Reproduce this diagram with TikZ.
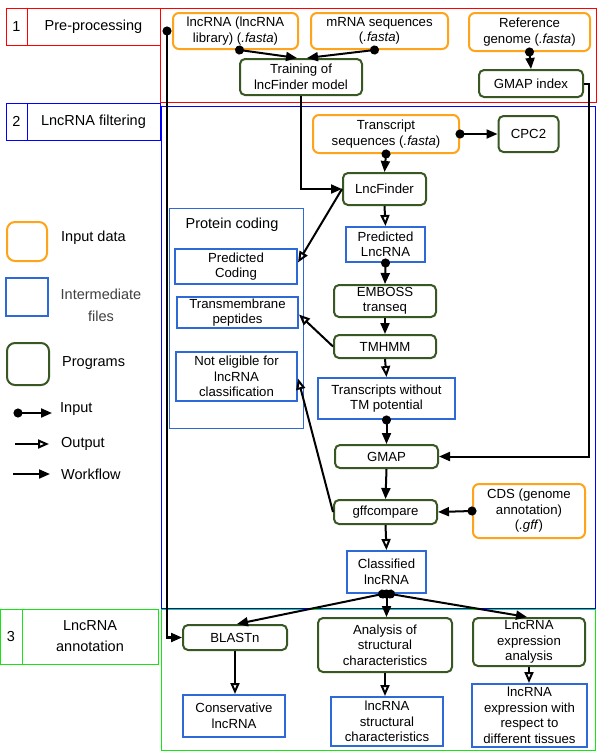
\documentclass[tikz,border=0pt]{standalone}
\usepackage{fontspec}
\setmainfont{Liberation Sans}
\usetikzlibrary{arrows.meta}

\definecolor{inorange}{RGB}{255,163,26}
\definecolor{proggreen}{RGB}{56,87,35}
\definecolor{midblue}{RGB}{45,105,215}
\definecolor{secred}{RGB}{255,0,0}
\definecolor{secblue}{RGB}{0,0,255}
\definecolor{secgreen}{RGB}{20,230,20}

\begin{document}
\begin{tikzpicture}[x=1pt, y=-1pt,
  font=\fontsize{13.2}{15.5}\selectfont,
  box/.style={align=center, inner sep=0pt, line width=2pt},
  indata/.style={box, draw=inorange, rounded corners=6pt},
  prog/.style={box, draw=proggreen, rounded corners=5pt},
  midfile/.style={box, draw=midblue},
  input/.style={line width=2pt, {Circle[length=9pt]}-{Triangle[length=11pt,width=9pt]}, shorten <=-4.5pt},
  output/.style={line width=2pt, -{Triangle[open,length=11pt,width=9pt]}},
  flow/.style={line width=2pt, -{Triangle[length=11pt,width=9pt]}},
  sect/.style={font=\fontsize{14.5}{17}\selectfont, inner sep=0pt, align=center}]
  \useasboundingbox (0,0) rectangle (604,755);

  % sections
  \draw[secred, line width=1pt] (6,8) rectangle (27,45) (27,8) rectangle (160,45) (160,8) rectangle (596,102);
  \draw[secblue, line width=1pt] (6,103) rectangle (27,140) (27,103) rectangle (160,140) (161,106) rectangle (595,608);
  \draw[secgreen, line width=1pt] (0.5,609) rectangle (22,664) (22,609) rectangle (158,664) (161,609) rectangle (595,750);
  \node[sect] (s1num) at (16.5,26.5) {1};
  \node[sect] (s1lab) at (93.5,26.5) {Pre-processing};
  \node[sect] (s2num) at (16.5,121.5) {2};
  \node[sect] (s2lab) at (93.5,121.5) {LncRNA filtering};
  \node[sect] (s3num) at (11,636.5) {3};
  \node[sect, font=\fontsize{14.5}{21}\selectfont] (s3lab) at (90,636.5) {LncRNA\\annotation};

  % legend
  \node[indata, rounded corners=8pt, minimum width=40pt, minimum height=39pt] (lgdata) at (27,241.5) {};
  \node[midfile, minimum width=42pt, minimum height=38pt] (lgfile) at (27,297) {};
  \node[prog, rounded corners=8pt, minimum width=42pt, minimum height=42pt] (lgprog) at (28,364) {};
  \node[sect, anchor=west] (lgdatat) at (61,238) {Input data};
  \node[sect, text=black!75, font=\fontsize{14.5}{22}\selectfont] (lgfilet) at (101,305) {Intermediate\\files};
  \node[sect, anchor=west] (lgprogt) at (62,363) {Programs};
  \node[sect, anchor=west] (lgint) at (60,409) {Input};
  \node[sect, anchor=west] (lgoutt) at (61,444) {Output};
  \node[sect, anchor=west] (lgflowt) at (61,474) {Workflow};
  \coordinate (lgina) at (18,413);   \coordinate (lginb) at (52,413);
  \coordinate (lgouta) at (15,444);  \coordinate (lgoutb) at (49,444);
  \coordinate (lgflowa) at (13,474); \coordinate (lgflowb) at (50,474);

  % 1 pre-processing
  \node[indata, minimum width=125pt, minimum height=36pt] (lnc) at (235.5,31) {lncRNA (lncRNA\\library) (\textit{.fasta})};
  \node[indata, minimum width=137pt, minimum height=36pt] (mrna) at (379.5,31) {mRNA sequences\\(\textit{.fasta})};
  \node[indata, minimum width=121pt, minimum height=38pt] (refgen) at (529.5,32) {Reference\\genome (\textit{.fasta})};
  \node[prog, minimum width=122pt, minimum height=36pt] (train) at (301,77) {Training of\\lncFinder model};
  \node[prog, minimum width=104pt, minimum height=27pt] (gmapidx) at (531,83.5) {GMAP index};
  \coordinate (lsrc) at (167,31);

  % 2 lncRNA filtering
  \node[indata, minimum width=146pt, minimum height=38pt] (trans) at (386,134) {Transcript\\sequences (\textit{.fasta})};
  \node[prog, minimum width=60pt, minimum height=36pt] (cpc) at (528.5,134) {CPC2};
  \node[prog, minimum width=83pt, minimum height=32pt] (lncf) at (384.5,189) {LncFinder};
  \draw[midblue, line width=1pt] (169,208) rectangle (303,428);
  \node[sect] (pcod) at (232,225) {Protein coding};
  \node[midfile, minimum width=122pt, minimum height=35pt] (predc) at (236,266.5) {Predicted\\Coding};
  \node[midfile, minimum width=121pt, minimum height=31pt] (tmpep) at (237.5,312.5) {Transmembrane\\peptides};
  \node[midfile, minimum width=121pt, minimum height=49pt] (noteli) at (236.5,376.5) {Not eligible for\\lncRNA\\classification};
  \node[midfile, minimum width=79pt, minimum height=35pt] (predl) at (385.5,244.5) {Predicted\\LncRNA};
  \node[prog, minimum width=102pt, minimum height=32pt] (emboss) at (385,301) {EMBOSS\\transeq};
  \node[prog, minimum width=102pt, minimum height=23pt] (tmhmm) at (385,346.5) {TMHMM};
  \node[midfile, minimum width=137pt, minimum height=41pt] (notm) at (386.5,398.5) {Transcripts without\\TM potential};
  \node[prog, minimum width=103pt, minimum height=23pt] (gmap) at (386.5,456.5) {GMAP};
  \node[prog, minimum width=103pt, minimum height=24pt] (gffc) at (385.5,512) {gffcompare};
  \node[indata, minimum width=112pt, minimum height=54pt] (cds) at (529,511) {CDS (genome\\annotation)\\(\textit{.gff})};
  \node[midfile, minimum width=79pt, minimum height=42pt] (classl) at (386.5,572) {Classified\\lncRNA};

  % 3 lncRNA annotation
  \node[prog, minimum width=104pt, minimum height=25pt] (blastn) at (235,637.5) {BLASTn};
  \node[prog, minimum width=134pt, minimum height=54pt] (anal) at (385,645) {Analysis of\\structural\\characteristics};
  \node[prog, minimum width=112pt, minimum height=48pt] (exan) at (529,642) {LncRNA\\expression\\analysis};
  \node[midfile, minimum width=102pt, minimum height=42pt] (cons) at (234,716) {Conservative\\lncRNA};
  \node[midfile, minimum width=112pt, minimum height=49pt] (struc) at (387,721.5) {lncRNA\\structural\\characteristics};
  \node[midfile, minimum width=115pt, minimum height=63pt] (resp) at (529.5,715.5) {lncRNA\\expression with\\respect to\\different tissues};

  % connectors
  \path
  (lgina) edge[input] (lginb)
  (lgouta) edge[output] (lgoutb)
  (lgflowa) edge[flow] (lgflowb)
  ([xshift=4pt]lnc.south) edge[input] ([xshift=-4pt]train.north)
  ([xshift=-5pt]mrna.south) edge[input] ([xshift=6pt]train.north)
  (refgen.south) edge[input] (gmapidx.north)
  (trans.east) edge[input] (cpc.west)
  (trans.south) edge[input] (lncf.north)
  (lncf.west) edge[output] ([yshift=4pt]predc.east)
  (lncf.south) edge[output] (predl.north)
  (predl.south) edge[input] (emboss.north)
  (emboss.south) edge[flow] (tmhmm.north)
  (tmhmm.west) edge[output] ([yshift=-2pt]tmpep.east)
  (tmhmm.south) edge[output] (notm.north)
  (notm.south) edge[input] (gmap.north)
  (gmap.south) edge[flow] (gffc.north)
  (gffc.west) edge[output] ([yshift=-2pt]noteli.east)
  (cds.west) edge[input] (gffc.east)
  (gffc.south) edge[output] (classl.north)
  ([xshift=-4pt]classl.south) edge[input] ([xshift=2pt]blastn.north)
  (classl.south) edge[input] (classl.south |- anal.north)
  ([xshift=4pt]classl.south) edge[input] ([xshift=-2pt]exan.north)
  (blastn.south) edge[output] (blastn.south |- cons.north)
  (anal.south) edge[output] (anal.south |- struc.north)
  (exan.south) edge[output] (exan.south |- resp.north);
  \draw[flow] (train.south) |- (lncf.west);
  \draw[flow] (gmapidx.east) -- ++(5,0) |- (gmap.east);
  \draw[input, line width=2.2pt] (lsrc) |- (blastn.west);
\end{tikzpicture}
\end{document}
